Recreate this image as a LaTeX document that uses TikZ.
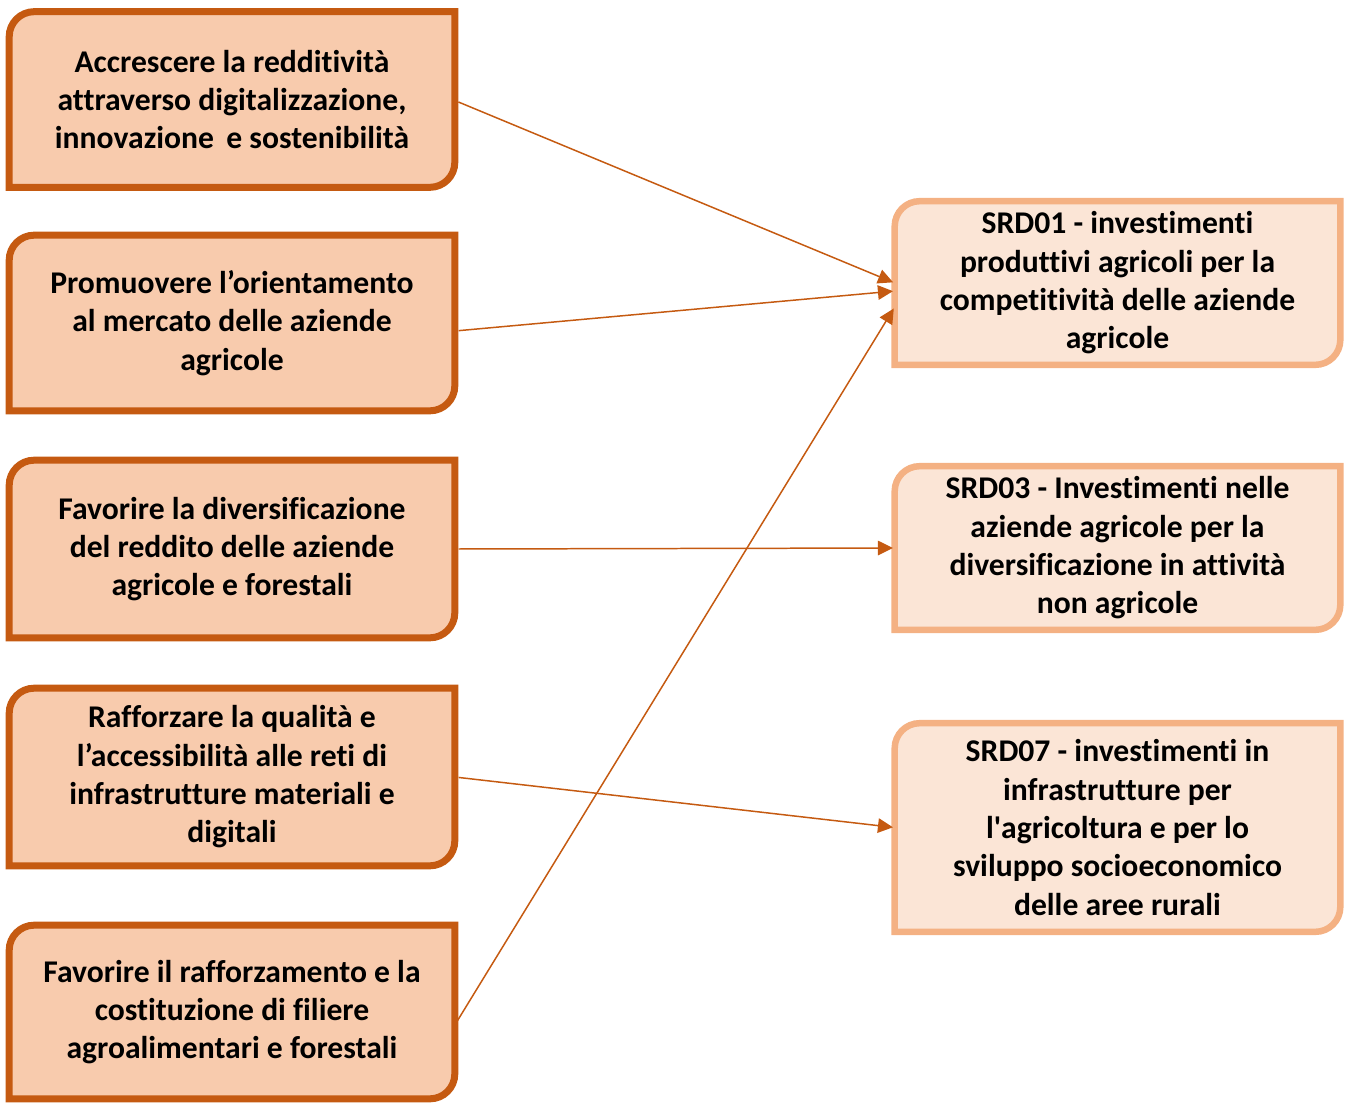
\documentclass[tikz,border=0pt]{standalone}
\usepackage{fontspec}
\setmainfont{Carlito}[Ligatures={CommonOff,ContextualOff}]
\usetikzlibrary{arrows.meta,backgrounds}

\definecolor{goaledge}{HTML}{C55A11}
\definecolor{goalfill}{HTML}{F8CBAD}
\definecolor{measureedge}{HTML}{F4B183}
\definecolor{measurefill}{HTML}{FBE5D6}
\definecolor{linkcolor}{HTML}{C55A11}

\tikzset{
  boxtext/.style={inner sep=0pt, align=center, minimum width=8.9cm,
    font=\bfseries\fontsize{18}{21.8}\selectfont},
  goal/.style={boxtext},
  measure/.style={boxtext},
  goalframe/.style={draw=goaledge, fill=goalfill, line width=0.14cm},
  measureframe/.style={draw=measureedge, fill=measurefill, line width=0.13cm},
  link/.style={draw=linkcolor, line width=0.85pt, shorten <=2.2pt, shorten >=1pt,
    -{Triangle[length=0.3cm,width=0.29cm]}}
}

% frame with rounded top-left and bottom-right corners
\newcommand\diagframe[2]{%
  \path[#2] (#1.west) [rounded corners=0.5cm] -- (#1.north west) -- (#1.north)
    [sharp corners] -- (#1.north east) -- (#1.east)
    [rounded corners=0.5cm] -- (#1.south east) -- (#1.south)
    [sharp corners] -- (#1.south west) -- cycle;}

\begin{document}
\begin{tikzpicture}[x=0.02cm, y=-0.02cm]
  \useasboundingbox (0,0) rectangle (1351,1102);

  % objectives
  \node[goal, minimum height=3.5cm]  (b1) at (232,99.5)
    {Accrescere la redditività\\attraverso digitalizzazione,\\innovazione\, e sostenibilità};
  \node[goal, minimum height=3.5cm]  (b2) at (232,323)
    {Promuovere l’orientamento\\al mercato delle aziende\\agricole};
  \node[goal, minimum height=3.54cm] (b3) at (232,549)
    {Favorire la diversificazione\\del reddito delle aziende\\agricole e forestali};
  \node[goal, minimum height=3.54cm] (b4) at (232,777)
    {Rafforzare la qualità e\\l’accessibilità alle reti di\\infrastrutture materiali e\\digitali};
  \node[goal, minimum height=3.46cm] (b5) at (232,1012)
    {Favorire il rafforzamento e la\\costituzione di filiere\\agroalimentari e forestali};

  % interventions
  \node[measure, minimum height=3.26cm] (s1) at (1117.5,283)
    {SRD01 - investimenti\\produttivi agricoli per la\\competitività delle aziende\\agricole};
  \node[measure, minimum height=3.26cm] (s3) at (1117.5,548)
    {SRD03 - Investimenti nelle\\aziende agricole per la\\diversificazione in attività\\non agricole};
  \node[measure, minimum height=4.16cm] (s7) at (1117.5,827.5)
    {SRD07 - investimenti in\\infrastrutture per\\l\textquotesingle agricoltura e per lo\\sviluppo socioeconomico\\delle aree rurali};

  \begin{scope}[on background layer]
    \foreach \n in {b1,b2,b3,b4,b5} {\diagframe{\n}{goalframe}}
    \foreach \n in {s1,s3,s7} {\diagframe{\n}{measureframe}}
  \end{scope}

  % links
  \draw[link] ([yshift=-0.02cm]b1.east) -- (s1.west);
  \draw[link] ([yshift=-0.16cm]b2.east) -- ([yshift=-0.16cm]s1.west);
  \draw[link] (b3.east) -- (s3.west);
  \draw[link] (b4.east) -- (s7.west);
  \draw[link] ([yshift=-0.26cm]b5.east) -- ([yshift=-0.48cm]s1.west);
\end{tikzpicture}
\end{document}
